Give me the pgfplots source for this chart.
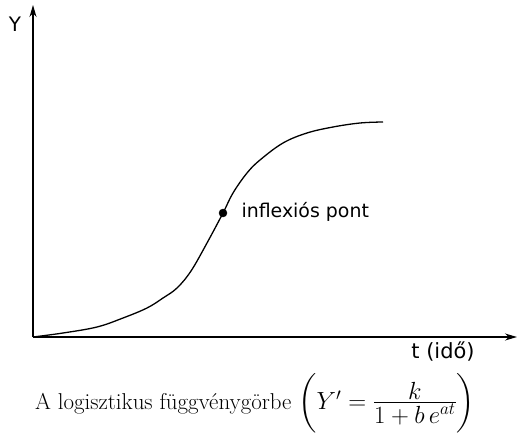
\documentclass[border=0pt]{standalone}
\usepackage{amsmath}
\usepackage{pgfplots}
\pgfplotsset{compat=1.18}
\usepackage{fontspec}
\newfontfamily\labelfont{DejaVu Sans}
\usetikzlibrary{arrows.meta}

\begin{document}
\begin{tikzpicture}[x=1bp,y=1bp]
\begin{axis}[
    scale only axis,
    width=484bp, height=332bp,
    xmin=0, xmax=484, ymin=0, ymax=332,
    axis lines=left,
    axis line style={line width=1.4pt, -{Stealth[length=12bp,width=7bp]}},
    xtick=\empty, ytick=\empty,
    clip=false,
]
% curve (px from the axis origin)
\addplot[black, line width=1.3pt, smooth, tension=0.6] coordinates {
    (0,0) (30,4) (64,10) (90,19) (114,29) (130,39) (144,49) (158,66)
    (174,94) (190,124) (200,144) (214,164) (227,177) (250,194)
    (274,204) (300,210) (327,214) (350,215)
};
\addplot[only marks, mark=*, mark size=4bp, black] coordinates {(190,124)};
\node[anchor=west, font=\labelfont\fontsize{19}{21}\selectfont] at (axis cs:205,125) {inflexiós pont};
\node[font=\labelfont\fontsize{20}{22}\selectfont] at (axis cs:-18,313) {Y};
\node[inner sep=0pt, font=\labelfont\fontsize{21}{23}\selectfont] at (axis cs:410,-15) {t (idő)};
\node[inner sep=0pt, anchor=base, font=\fontsize{23}{25}\selectfont] at (axis cs:222,-72)
    {A logisztikus függvénygörbe $\bigg(Y' = \frac{\textstyle k}{\textstyle 1+b\,e^{at}}\bigg)$};
\path (axis cs:-33,337) (axis cs:487,-90);
\end{axis}
\end{tikzpicture}
\end{document}
